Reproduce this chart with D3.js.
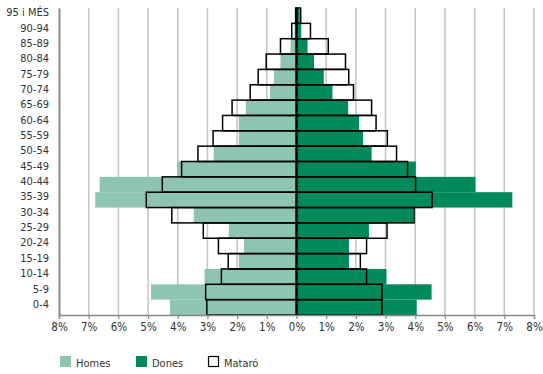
<!DOCTYPE html>
<html><head><meta charset="utf-8">
<script src="https://cdn.jsdelivr.net/npm/d3@7"></script>
<style>
body{margin:0;background:#fff;}
text{font-family:"DejaVu Sans Condensed","DejaVu Sans",sans-serif;fill:#333;}
</style></head>
<body><svg id="c" width="543" height="374"></svg>
<script>
const ages = ["0-4","5-9","10-14","15-19","20-24","25-29","30-34","35-39","40-44","45-49","50-54","55-59","60-64","65-69","70-74","75-79","80-84","85-89","90-94","95 i MÉS"];
const homes = [4.26, 4.90, 3.10, 1.94, 1.77, 2.28, 3.46, 6.78, 6.63, 4.02, 2.79, 1.94, 1.94, 1.71, 0.89, 0.76, 0.54, 0.20, 0.07, 0.02];
const dones = [4.05, 4.55, 3.03, 1.77, 1.77, 2.44, 3.93, 7.27, 6.03, 4.02, 2.53, 2.24, 2.11, 1.74, 1.21, 0.92, 0.59, 0.37, 0.16, 0.11];
const mataroHomes = [3.02, 3.06, 2.53, 2.30, 2.63, 3.14, 4.20, 5.06, 4.52, 3.87, 3.32, 2.81, 2.49, 2.17, 1.56, 1.29, 1.02, 0.54, 0.16, 0.03];
const mataroDones = [2.88, 2.88, 2.36, 2.15, 2.36, 3.05, 3.96, 4.57, 4.01, 3.74, 3.37, 3.06, 2.68, 2.53, 1.92, 1.76, 1.65, 1.07, 0.47, 0.14];
const tickValues = [-8,-7,-6,-5,-4,-3,-2,-1,0,1,2,3,4,5,6,7,8];
const legendItems = ["Homes","Dones","Mataró"];

const colHomes = "#8dc5b0", colDones = "#008a5c";
const svg = d3.select("#c");
const x = d3.scaleLinear().domain([-8, 8]).range([59, 534]);
const y = d3.scaleBand().domain(ages.slice().reverse()).range([8, 315]).padding(0);

// gridlines
svg.append("g").selectAll("line").data(tickValues.filter(d => d !== 0 && d !== -8))
  .join("line")
  .attr("x1", d => x(d)).attr("x2", d => x(d))
  .attr("y1", 8).attr("y2", 315)
  .attr("stroke", "#c4c4c6").attr("stroke-width", 1.5);

const rows = ages.map((a, i) => ({age: a, h: homes[i], d: dones[i], mh: mataroHomes[i], md: mataroDones[i]}));

// green bars
svg.append("g").selectAll("rect").data(rows).join("rect")
  .attr("x", d => x(-d.h)).attr("width", d => x(0) - x(-d.h))
  .attr("y", d => y(d.age)).attr("height", y.bandwidth())
  .attr("fill", colHomes);
svg.append("g").selectAll("rect").data(rows).join("rect")
  .attr("x", x(0)).attr("width", d => x(d.d) - x(0))
  .attr("y", d => y(d.age)).attr("height", y.bandwidth())
  .attr("fill", colDones);

// Mataró outlines
svg.append("g").selectAll("rect").data(rows).join("rect")
  .attr("x", d => x(-d.mh)).attr("width", d => x(0) - x(-d.mh))
  .attr("y", d => y(d.age)).attr("height", y.bandwidth())
  .attr("fill", "none").attr("stroke", "#000").attr("stroke-width", 1.5);
svg.append("g").selectAll("rect").data(rows).join("rect")
  .attr("x", x(0)).attr("width", d => x(d.md) - x(0))
  .attr("y", d => y(d.age)).attr("height", y.bandwidth())
  .attr("fill", "none").attr("stroke", "#000").attr("stroke-width", 1.5);

// center line
svg.append("line").attr("x1", x(0)).attr("x2", x(0)).attr("y1", 8).attr("y2", 315)
  .attr("stroke", "#000").attr("stroke-width", 2);

// bottom axis
const xAxis = svg.append("g").attr("transform", "translate(0,315)")
  .call(d3.axisBottom(x).tickValues(tickValues).tickSize(4).tickPadding(4)
    .tickFormat(d => Math.abs(d) + "%"));
xAxis.attr("font-family", null).attr("font-size", null);
xAxis.select(".domain").attr("stroke", "#888").attr("stroke-width", 1.5);
xAxis.selectAll(".tick line").attr("stroke", "#888").attr("stroke-width", 1.2);
xAxis.selectAll("text").attr("font-size", 11.5).attr("fill", "#333");

// left axis
const yAxis = svg.append("g").attr("transform", "translate(59,-3)")
  .call(d3.axisLeft(y).tickSize(0).tickPadding(10));
yAxis.attr("font-family", null).attr("font-size", null);
yAxis.select(".domain").attr("transform", "translate(0,3)").attr("stroke", "#888").attr("stroke-width", 2);
yAxis.selectAll("text").attr("font-size", 11).attr("fill", "#333");

// legend
const legX = [60, 136, 208];
const lg = svg.append("g").selectAll("g").data(legendItems).join("g")
  .attr("transform", (d, i) => `translate(${legX[i]},356)`);
lg.append("rect")
  .attr("fill", (d, i) => i === 0 ? colHomes : i === 1 ? colDones : "#fff")
  .attr("stroke", (d, i) => i === 2 ? "#000" : "none").attr("stroke-width", 1.2)
  .attr("x", (d, i) => i === 2 ? 0.5 : 0).attr("y", (d, i) => i === 2 ? 0.5 : 0)
  .attr("width", (d, i) => i === 2 ? 10 : 11).attr("height", (d, i) => i === 2 ? 10 : 11);
lg.append("text").attr("x", 16).attr("y", 10.5).attr("font-size", 11).text(d => d);
</script></body></html>
